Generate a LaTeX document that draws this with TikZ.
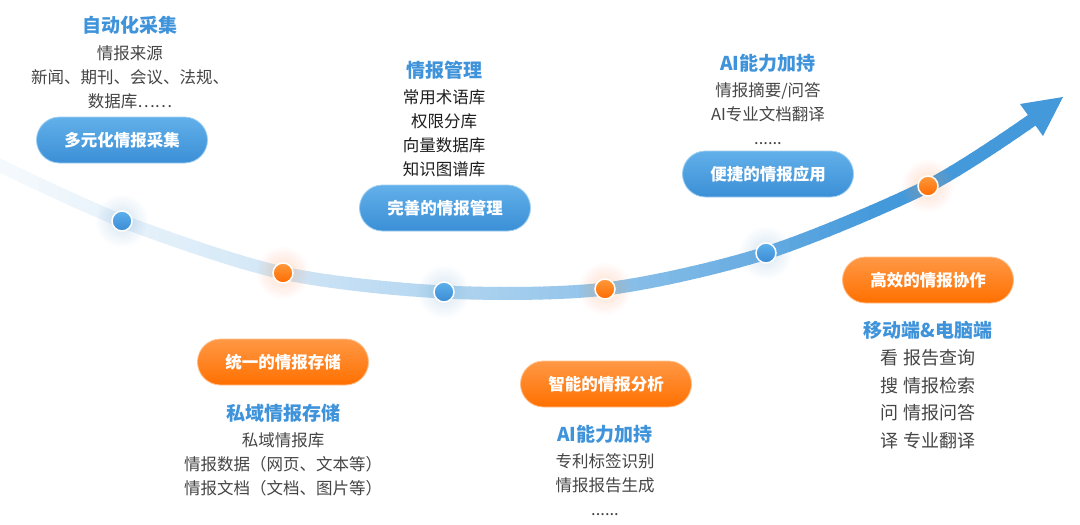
\documentclass[tikz,border=0pt]{standalone}
\usepackage{fontspec}
\setmainfont{Noto Sans CJK SC}
\usetikzlibrary{shapes.misc}
\definecolor{arrowblue}{HTML}{4499DB}
\definecolor{titleblue}{HTML}{3E93DA}
\definecolor{pillbluetop}{HTML}{62B0EA}
\definecolor{pillbluebot}{HTML}{3B8FD6}
\definecolor{pillorgtop}{HTML}{FF9845}
\definecolor{pillorgbot}{HTML}{FF7000}
\definecolor{bodygray}{HTML}{454545}
\definecolor{bodydark}{HTML}{1E1E1E}
\definecolor{dotbluetop}{HTML}{5DB0EC}
\definecolor{dotbluebot}{HTML}{3A8BD3}
\definecolor{dotorgtop}{HTML}{FF9A3C}
\definecolor{dotorgbot}{HTML}{FF6A00}
\definecolor{glowblue}{HTML}{7FB8E8}
\definecolor{gloworange}{HTML}{FFA060}
\begin{document}
\begin{tikzpicture}[x=1pt,y=-1pt,
  pill/.style={rounded rectangle, minimum width=171pt, minimum height=46pt, inner sep=0pt, text=white, font=\fontsize{16.5}{20}\selectfont\bfseries},
  bluepill/.style={pill, top color=pillbluetop, bottom color=pillbluebot, draw=pillbluetop!60!white, line width=0.8pt},
  orgpill/.style={pill, top color=pillorgtop, bottom color=pillorgbot, draw=pillorgtop!60!white, line width=0.8pt},
  dot/.style={circle, minimum size=20pt, inner sep=0pt, draw=white, line width=1.5pt},
  bluedot/.style={dot, top color=dotbluetop, bottom color=dotbluebot},
  orgdot/.style={dot, top color=dotorgtop, bottom color=dotorgbot},
  title/.style={text=titleblue, font=\fontsize{19}{22}\selectfont\bfseries, inner sep=0pt},
  body/.style={text=bodygray, font=\fontsize{16.5}{24}\selectfont, align=center, inner sep=0pt, anchor=north},
]
\useasboundingbox (0,0) rectangle (1080,525);
\fill[white] (0,0) rectangle (1080,525);

% curve points
\coordinate (p0) at (-20,156);
\coordinate (p1) at (122,221);
\coordinate (p2) at (283,273);
\coordinate (p3) at (444,292);
\coordinate (p4) at (605,289);
\coordinate (p5) at (766,253);
\coordinate (p6) at (928,186);
\coordinate (p7) at (1035,118);
\coordinate (tip) at (1063,97);
\coordinate (w1) at (1020,104);
\coordinate (w2) at (1043,136);

% gradient curve
\foreach \x in {0,10,...,1040} {
  \pgfmathsetmacro\t{\x/870}
  \pgfmathtruncatemacro\pct{min(100,6+94*(0.5*\t+0.5*\t*\t))}
  \begin{scope}
    \clip (\x-0.6,0) rectangle (\x+10.6,525);
    \draw[arrowblue!\pct!white, line width=13pt] plot[smooth] coordinates {(p0) (p1) (p2) (p3) (p4) (p5) (p6) (p7)};
  \end{scope}
}
\fill[arrowblue] (tip) -- (w1) -- (w2) -- cycle;

% soft glows
\foreach \p/\c in {p1/glowblue,p2/gloworange,p3/glowblue,p4/gloworange,p5/glowblue,p6/gloworange} {
  \foreach \r in {26,24,...,12} {
    \fill[\c, opacity=0.025] (\p) circle (\r);
  }
}

% dots
\node[bluedot] (d1) at (p1) {};
\node[orgdot]  (d2) at (p2) {};
\node[bluedot] (d3) at (p3) {};
\node[orgdot]  (d4) at (p4) {};
\node[bluedot] (d5) at (p5) {};
\node[orgdot]  (d6) at (p6) {};

% pills
\node[bluepill] (s1) at (122,140) {多元化情报采集};
\node[bluepill] (s2) at (445,208) {完善的情报管理};
\node[bluepill] (s3) at (768,174) {便捷的情报应用};
\node[orgpill]  (s4) at (283,362) {统一的情报存储};
\node[orgpill]  (s5) at (606,384) {智能的情报分析};
\node[orgpill]  (s6) at (928,280) {高效的情报协作};

% titles
\node[title] (t1) at (130,25) {自动化采集};
\node[title] (t2) at (444,70) {情报管理};
\node[title] (t3) at (768,63) {AI能力加持};
\node[title] (t4) at (283,413) {私域情报存储};
\node[title] (t5) at (605,434) {AI能力加持};
\node[title] (t6) at (928,330) {移动端\&电脑端};

% bodies
\node[body] (b1) at (130,45) {情报来源\\新闻、期刊、会议、法规、\\数据库……};
\node[body, text=bodydark] (b2) at (444,89) {常用术语库\\权限分库\\向量数据库\\知识图谱库};
\node[body] (b3) at (768,82) {情报摘要/问答\\AI专业文档翻译\\......};
\node[body] (b4) at (283,432) {私域情报库\\情报数据（网页、文本等）\\情报文档（文档、图片等）};
\node[body] (b5) at (605,453) {专利标签识别\\情报报告生成\\......};
\node[body, font=\fontsize{18}{27.7}\selectfont] (b6) at (928,349) {看 报告查询\\搜 情报检索\\问 情报问答\\译 专业翻译};
\end{tikzpicture}
\end{document}
